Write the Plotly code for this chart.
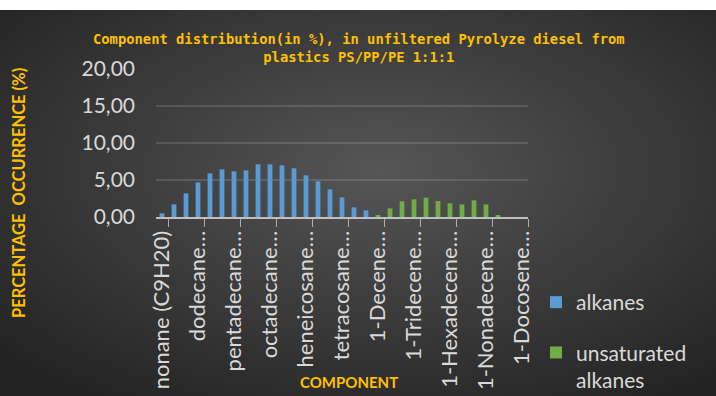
import base64
import struct
import zlib

import numpy as np
import plotly.graph_objects as go

# ---------------- data ----------------
alkane_names = [
    "nonane (C9H20)", "decane", "undecane", "dodecane", "tridecane", "tetradecane",
    "pentadecane", "hexadecane", "heptadecane", "octadecane", "nonadecane", "eicosane",
    "heneicosane", "docosane", "tricosane", "tetracosane", "pentacosane", "hexacosane",
]
alkane_values = [0.50, 1.71, 3.20, 4.68, 5.90, 6.44, 6.17, 6.30, 7.12, 7.12, 6.98, 6.58,
                 5.63, 4.82, 3.74, 2.66, 1.31, 0.90]

alkene_names = [
    "1-Decene", "1-Undecene", "1-Dodecene", "1-Tridecene", "1-Tetradecene", "1-Pentadecene",
    "1-Hexadecene", "1-Heptadecene", "1-Octadecene", "1-Nonadecene", "1-Eicosene",
    "1-Heneicosene", "1-Docosene",
]
alkene_values = [0.20, 1.17, 2.12, 2.39, 2.61, 2.16, 1.85, 1.71, 2.25, 1.71, 0.20, 0.0, 0.0]

tick_labels = ["nonane (C9H20)", "dodecane…", "pentadecane…", "octadecane…", "heneicosane…",
               "tetracosane…", "1-Decene…", "1-Tridecene…", "1-Hexadecene…", "1-Nonadecene…",
               "1-Docosene…"]

categories = alkane_names + alkene_names
x_alk = list(range(len(alkane_names)))
x_ene = list(range(len(alkane_names), len(categories)))
tick_positions = list(range(0, len(categories), 3))

# ---------------- background gradient image ----------------
W, H = 716, 386
yy, xx = np.mgrid[0:H, 0:W].astype(float)
cx, cy = 380.0, 160.0
d = np.sqrt(((xx - cx) / (W / 2)) ** 2 + ((yy - cy) / (H / 2)) ** 2) / np.sqrt(2)
d = np.clip(d, 0, 1)
img = (86 - (86 - 36) * d).astype(np.uint8)


def _chunk(tag, data):
    return struct.pack(">I", len(data)) + tag + data + struct.pack(">I", zlib.crc32(tag + data) & 0xFFFFFFFF)


raw = b"".join(b"\x00" + row.tobytes() for row in img)
png = (b"\x89PNG\r\n\x1a\n"
       + _chunk(b"IHDR", struct.pack(">IIBBBBB", W, H, 8, 0, 0, 0, 0))
       + _chunk(b"IDAT", zlib.compress(raw, 9))
       + _chunk(b"IEND", b""))
bg_src = "data:image/png;base64," + base64.b64encode(png).decode()

# ---------------- figure ----------------
L, R, T, B = 156, 188, 69, 179
PW, PH = 716 - L - R, 396 - T - B
FONT = "Lato"
GOLD = "#FFC000"
TXT = "#D9D9D9"

fig = go.Figure()
fig.add_trace(go.Bar(x=x_alk, y=alkane_values, name="alkanes", width=0.4,
                     marker=dict(color="#5B9BD5", line=dict(width=0)), legendgroup="a"))
fig.add_trace(go.Bar(x=x_ene, y=alkene_values, name="unsaturated<br>alkanes", width=0.4,
                     marker=dict(color="#70AD47", line=dict(width=0)), legendgroup="b"))


def px(xp):
    return (xp - L) / PW


def py(yp):
    return (396 - B - yp) / PH


fig.update_layout(
    width=716, height=396,
    margin=dict(l=L, r=R, t=T, b=B, pad=0, autoexpand=False),
    paper_bgcolor="white",
    plot_bgcolor="rgba(0,0,0,0)",
    separators=",.",
    barmode="overlay",
    font=dict(family=FONT, size=21, color=TXT),
    showlegend=True,
    legend=dict(xref="container", yref="container", x=536 / 716, y=1 - 282 / 396,
                xanchor="left", yanchor="top",
                bgcolor="rgba(0,0,0,0)", font=dict(family=FONT, size=21, color=TXT),
                tracegroupgap=20, traceorder="grouped", valign="top", itemwidth=30),
    images=[dict(source=bg_src, xref="paper", yref="paper", x=px(0), y=py(10),
                 sizex=716 / PW, sizey=386 / PH, sizing="stretch",
                 xanchor="left", yanchor="top", layer="below")],
    xaxis=dict(
        automargin=False,
        range=[-0.5, len(categories) - 0.5],
        tickmode="array", tickvals=tick_positions, ticktext=tick_labels,
        tickangle=-90, ticks="", showgrid=False, zeroline=False,
        showline=True, linecolor="#BFBFBF", linewidth=2,
        tickfont=dict(family=FONT, size=22, color=TXT),
        ticklabelstandoff=3,
        minor=dict(tickmode="linear", tick0=3.5, dtick=3, ticks="outside", ticklen=8,
                   tickwidth=1, tickcolor="rgba(217,217,217,0.7)", showgrid=False),
    ),
    yaxis=dict(
        automargin=False,
        range=[0, 20], dtick=5, tickformat=".2f",
        showgrid=True, gridcolor="rgba(255,255,255,0.13)", gridwidth=2,
        zeroline=False, showline=False, ticks="",
        tickfont=dict(family=FONT, size=21, color=TXT),
        ticklabelstandoff=20,
    ),
    annotations=[
        dict(text="Component distribution(in %), in unfiltered Pyrolyze diesel from<br>plastics PS/PP/PE 1:1:1",
             xref="paper", yref="paper", x=px(359), y=py(29), xanchor="center", yanchor="top",
             showarrow=False, font=dict(family="DejaVu Sans Mono", size=13.8, color=GOLD, weight="bold")),
        dict(text="PERCENTAGE  OCCURRENCE (%)", xref="paper", yref="paper",
             x=px(19), y=py(193), xanchor="center", yanchor="middle", textangle=-90,
             showarrow=False, font=dict(family=FONT, size=16.5, color=GOLD, weight="bold")),
        dict(text="COMPONENT", xref="paper", yref="paper", x=px(349), y=py(382),
             xanchor="center", yanchor="middle", showarrow=False,
             font=dict(family=FONT, size=15, color=GOLD, weight="bold")),
    ],
)

fig.write_html("out.html")
